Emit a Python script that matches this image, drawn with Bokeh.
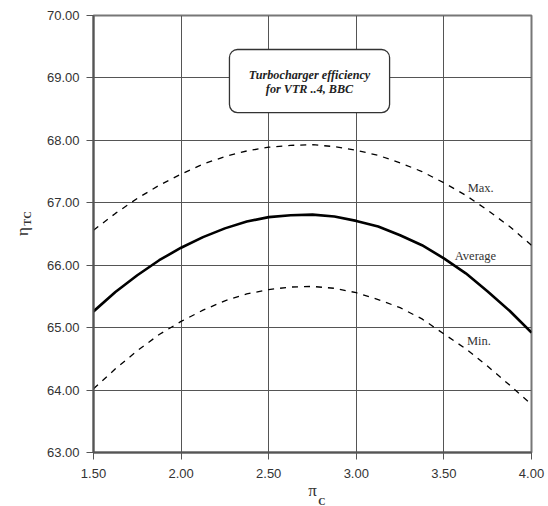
import math
from bokeh.plotting import figure
from bokeh.models import Range1d, FixedTicker, PrintfTickFormatter, Label, BoxAnnotation
from bokeh.embed import file_html
from bokeh.resources import INLINE

# ---- data ----
pi_c = [1.5, 1.625, 1.75, 1.875, 2.0, 2.125, 2.25, 2.375, 2.5, 2.625, 2.75,
        2.875, 3.0, 3.125, 3.25, 3.375, 3.5, 3.625, 3.75, 3.875, 4.0]
eta_max = [66.56, 66.83, 67.07, 67.28, 67.46, 67.62, 67.74, 67.83, 67.89, 67.92, 67.93,
           67.90, 67.84, 67.76, 67.64, 67.50, 67.32, 67.12, 66.88, 66.62, 66.32]
eta_avg = [65.26, 65.57, 65.84, 66.08, 66.28, 66.45, 66.59, 66.70, 66.77, 66.80, 66.81,
           66.78, 66.71, 66.62, 66.48, 66.32, 66.11, 65.87, 65.58, 65.27, 64.92]
eta_min = [64.02, 64.34, 64.63, 64.89, 65.10, 65.28, 65.43, 65.54, 65.61, 65.65, 65.66,
           65.63, 65.56, 65.45, 65.32, 65.14, 64.90, 64.66, 64.38, 64.08, 63.77]
x_ticks = [1.5, 2.0, 2.5, 3.0, 3.5, 4.0]
y_ticks = [63, 64, 65, 66, 67, 68, 69, 70]
title_lines = ["Turbocharger efficiency", "for VTR ..4, BBC"]
series_labels = ["Max.", "Average", "Min."]

p = figure(width=548, height=506, output_backend="svg", toolbar_location=None,
           x_range=Range1d(1.5, 4.0), y_range=Range1d(63, 70),
           min_border_left=93, min_border_right=17, min_border_top=15, min_border_bottom=54)
p.background_fill_color = "white"
p.border_fill_color = "white"
p.outline_line_color = "#777777"
p.outline_line_width = 2

for ax in (p.xaxis, p.yaxis):
    ax.axis_line_color = "#555555"
    ax.axis_line_width = 2
    ax.major_tick_line_color = "#555555"
    ax.major_tick_out = 7
    ax.major_tick_in = 0
    ax.minor_tick_line_color = None
    ax.major_label_text_font = "Liberation Sans"
    ax.major_label_text_font_size = "13px"
    ax.major_label_text_color = "#333333"
    ax.formatter = PrintfTickFormatter(format="%.2f")
p.xaxis.ticker = FixedTicker(ticks=x_ticks)
p.yaxis.ticker = FixedTicker(ticks=y_ticks)
p.xaxis.major_label_standoff = 9
p.yaxis.major_label_standoff = 7

# x axis title (pi) as the axis label
p.xaxis.axis_label = "π"
p.xaxis.axis_label_text_font = "Liberation Serif"
p.xaxis.axis_label_text_font_size = "17px"
p.xaxis.axis_label_text_font_style = "normal"
p.xaxis.axis_label_text_color = "#333333"
p.xaxis.axis_label_standoff = 0

for g in (p.xgrid, p.ygrid):
    g.grid_line_color = "#555555"
    g.grid_line_width = 1
    g.grid_line_alpha = 1

p.line(pi_c, eta_max, line_color="black", line_width=1.3, line_dash="6 6")
p.line(pi_c, eta_avg, line_color="black", line_width=2.6)
p.line(pi_c, eta_min, line_color="black", line_width=1.3, line_dash="6 6")

# series labels
for txt, (lx, ly) in zip(series_labels, [(3.71, 67.23), (3.68, 66.14), (3.70, 64.78)]):
    p.add_layout(Label(x=lx, y=ly, text=txt, text_font="Liberation Serif",
                       text_font_size="12.5px", text_color="#333333",
                       text_align="center", text_baseline="middle"))

# title box
p.add_layout(BoxAnnotation(left=2.276, right=3.19, top=69.455, bottom=68.445,
                           fill_color="white", fill_alpha=1, line_color="#333333",
                           line_alpha=1, line_width=1.3, border_radius=8))
for txt, ly in zip(title_lines, [69.04, 68.83]):
    p.add_layout(Label(x=2.733, y=ly, text=txt, text_font="Liberation Serif",
                       text_font_style="bold italic", text_font_size="12.2px",
                       text_color="#222222", text_align="center", text_baseline="middle"))

# y axis title (eta with subscript TC) in the left panel, so it is not clipped
p.add_layout(Label(x=1.095, y=66.54, text="η", angle=math.pi / 2, text_font="Liberation Serif",
                   text_font_size="17px", text_color="#333333",
                   text_align="center", text_baseline="middle"), "left")
p.add_layout(Label(x=1.126, y=66.75, text="TC", angle=math.pi / 2, text_font="Liberation Serif",
                   text_font_style="bold", text_font_size="10.5px", text_color="#333333",
                   text_align="center", text_baseline="middle"), "left")
# subscript of pi
p.add_layout(Label(x=2.804, y=62.215, text="C", text_font="Liberation Serif",
                   text_font_style="bold", text_font_size="10px", text_color="#333333",
                   text_align="center", text_baseline="middle"), "right")

open("out.html", "w").write(file_html(p, INLINE))
